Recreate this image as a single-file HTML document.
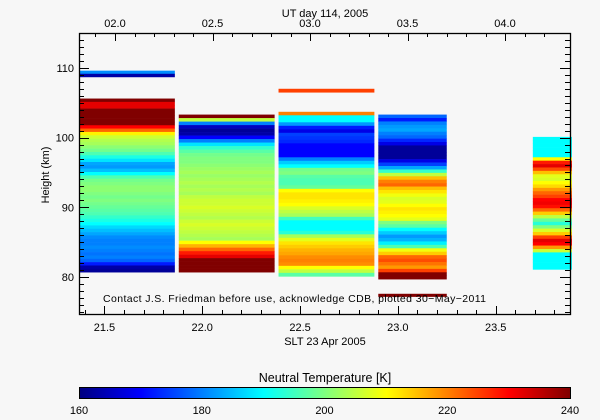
<!DOCTYPE html>
<html><head><meta charset="utf-8"><style>
html,body{margin:0;padding:0;background:#f7f7f7;}
svg{display:block;font-family:"Liberation Sans",sans-serif;}
</style></head><body>
<svg id="chart" width="600" height="420" xmlns="http://www.w3.org/2000/svg">
<rect width="600" height="420" fill="#f7f7f7"/>
<g id="cells"></g>
<g id="axes"></g>
<text x="325" y="17" font-size="11" text-anchor="middle">UT day 114, 2005</text>
<text x="325" y="345" font-size="11" text-anchor="middle">SLT 23 Apr 2005</text>
<text transform="translate(49,175) rotate(-90)" font-size="11" text-anchor="middle">Height (km)</text>
<text x="103" y="302" font-size="10.5" textLength="383" lengthAdjust="spacing">Contact J.S. Friedman before use, acknowledge CDB, plotted 30−May−2011</text>
<text x="325" y="382" font-size="12.5" text-anchor="middle">Neutral Temperature [K]</text>
<g id="cbar"></g>
</svg>
<script>
// data
const colStart = [21.37, 21.88, 22.39, 22.90, 23.69, 21.37, 22.39, 22.90];
const colEnd   = [21.86, 22.37, 22.88, 23.25, 23.89, 21.86, 22.88, 23.25];
const colTop   = [105.6, 103.3, 103.7, 103.3, 100.1, 109.6, 107.0, 77.6];
const colBot   = [80.7, 80.7, 80.1, 79.7, 81.1, 108.7, 106.5, 77.2];
const col1 = [240,232,232,240,240,240,240,240,230,222,211,206,204,203,201,199,196,192,188,183,182,185,190,196,199,200,201,201,200,199,200,199,198,197,196,194,192,190,187,185,183,181,180,180,181,180,179,180,178,172,163,162];
const col2 = [240,205,180,165,162,163,170,180,188,194,197,199,200,200,201,202,203,202,203,204,203,204,203,205,206,206,207,206,205,204,206,207,206,205,204,203,210,216,222,228,232,240,240,240,240];
const col3 = [220,190,190,182,172,168,175,174,173,170,170,170,170,180,186,190,199,200,197,196,196,198,210,212,212,211,210,207,205,203,195,190,190,190,193,203,208,212,214,216,217,219,220,219,210,205,197];
const col4 = [178,172,180,182,183,180,178,173,168,162,162,162,162,168,175,183,194,205,215,220,222,215,212,209,207,208,210,212,211,210,208,200,197,190,186,182,184,189,196,209,214,222,224,221,218,225,240,240];
const col5 = [190,190,190,190,190,190,210,228,232,224,215,208,207,210,213,218,222,225,230,231,229,222,214,205,198,193,200,207,214,225,232,230,218,206,190,190,190,190,190];
const col1top = [181,163];
const col3top = [225];
const col4bot = [240];
const columns = [col1,col2,col3,col4,col5,col1top,col3top,col4bot];
const xTicks = [21.5,22.0,22.5,23.0,23.5];
const xTickLabels = ["21.5","22.0","22.5","23.0","23.5"];
const topTicks = [2.0,2.5,3.0,3.5,4.0];
const topTickLabels = ["02.0","02.5","03.0","03.5","04.0"];
const yTicks = [80,90,100,110];
const cbTicks = [160,180,200,220,240];

const L=79,R=570,T=33,B=314, X0=21.37,X1=23.88, Y0=74.7,Y1=115;
const xs=v=>L+(v-X0)/(X1-X0)*(R-L);
const ys=v=>B-(v-Y0)/(Y1-Y0)*(B-T);
const utx=v=>115+(v-2.0)*195;
function jet(t){t=Math.max(0,Math.min(1,(t-160)/80));
 const f=x=>Math.round(255*Math.max(0,Math.min(1,x)));
 return `rgb(${f(1.5-Math.abs(4*t-3))},${f(1.5-Math.abs(4*t-2))},${f(1.5-Math.abs(4*t-1))})`;}
const NS="http://www.w3.org/2000/svg";
function mk(tag,attrs,parent){const e=document.createElementNS(NS,tag);for(const k in attrs)e.setAttribute(k,attrs[k]);parent.appendChild(e);return e;}
const cells=document.getElementById('cells');
columns.forEach((c,ci)=>{
 const n=c.length, h=(colTop[ci]-colBot[ci])/n;
 c.forEach((v,i)=>{
  const y1=ys(colTop[ci]-i*h), y2=ys(colTop[ci]-(i+1)*h);
  const r=mk('rect',{x:xs(colStart[ci]),y:y1,width:xs(colEnd[ci])-xs(colStart[ci]),height:y2-y1+0.3,fill:jet(v)},cells);
  
  
 });
});
const ax=document.getElementById('axes');
mk('rect',{x:L+0.5,y:T+0.5,width:R-L,height:B-T,fill:'none',stroke:'#000','stroke-width':1.3},ax);
for(let v=21.4;v<=23.88;v+=0.1){const x=Math.round(xs(v))+0.5;const maj=xTicks.some(t=>Math.abs(t-v)<0.01);mk('line',{x1:x,x2:x,y1:B,y2:B-(maj?8:4),stroke:'#000'},ax);}
xTicks.forEach((v,i)=>{const t=mk('text',{x:xs(v),y:331,'font-size':11,'text-anchor':'middle'},ax);t.textContent=xTickLabels[i];
 
 });
for(let v=1.9;v<=4.3;v+=0.1){const x=Math.round(utx(v))+0.5;if(x<L||x>R)continue;const maj=topTicks.some(t=>Math.abs(t-v)<0.01);mk('line',{x1:x,x2:x,y1:T,y2:T+(maj?8:4),stroke:'#000'},ax);}
topTicks.forEach((v,i)=>{const t=mk('text',{x:utx(v),y:27,'font-size':11,'text-anchor':'middle'},ax);t.textContent=topTickLabels[i];
 
 });
for(let v=75;v<=115;v+=1){const y=Math.round(ys(v))+0.5;const maj=v%10==0;
 mk('line',{x1:L,x2:L+(maj?10:5),y1:y,y2:y,stroke:'#000'},ax);
 mk('line',{x1:R,x2:R-(maj?10:5),y1:y,y2:y,stroke:'#000'},ax);}
yTicks.forEach(v=>{const t=mk('text',{x:74,y:ys(v)+4,'font-size':11,'text-anchor':'end'},ax);t.textContent=v;
 
 });
const cb=document.getElementById('cbar');
const cL=79,cR=570;
for(let i=0;i<cR-cL;i++){mk('rect',{x:cL+i,y:387,width:1.2,height:11,fill:jet(160+80*i/(cR-cL))},cb);}
mk('rect',{x:cL+0.5,y:387.5,width:cR-cL,height:11,fill:'none',stroke:'#000'},cb);
cbTicks.forEach(v=>{const x=cL+(v-160)/80*(cR-cL);const t=mk('text',{x:x,y:414,'font-size':11,'text-anchor':'middle'},cb);t.textContent=v;
 
 });
</script>
</body></html>
